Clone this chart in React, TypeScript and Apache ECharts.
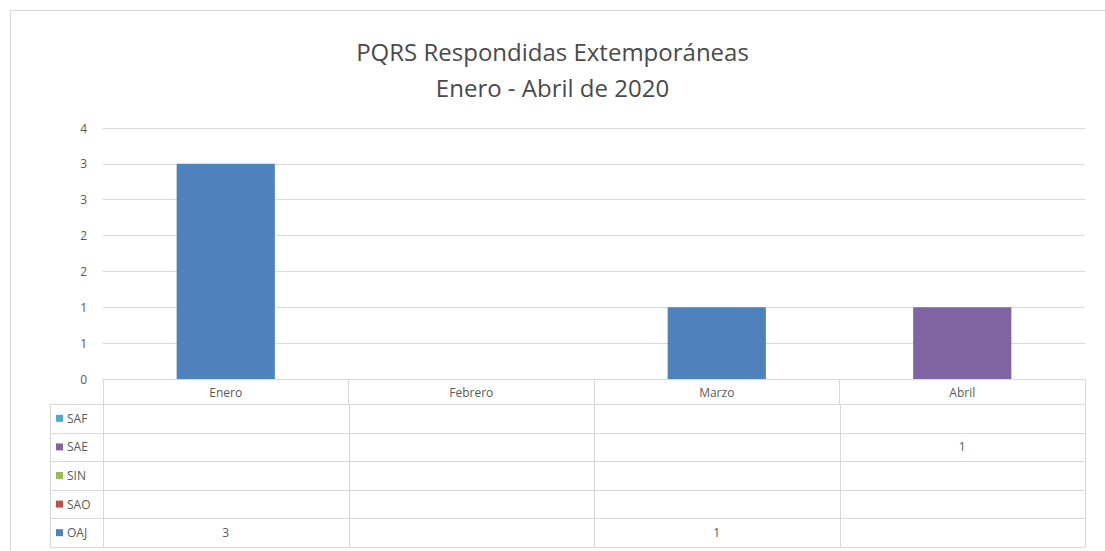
import { useEffect, useRef } from "react";
import * as echarts from "echarts";

const categories = ["Enero", "Febrero", "Marzo", "Abril"];
const seriesNames = ["OAJ", "SAO", "SIN", "SAE", "SAF"];
const seriesColors = ["#4F81BD", "#C0504D", "#9BBB59", "#8064A2", "#4BACC6"];
const oajValues: (number | null)[] = [3, null, 1, null];
const saoValues: (number | null)[] = [null, null, null, null];
const sinValues: (number | null)[] = [null, null, null, null];
const saeValues: (number | null)[] = [null, null, null, 1];
const safValues: (number | null)[] = [null, null, null, null];
const seriesValues = [oajValues, saoValues, sinValues, saeValues, safValues];
const titleLines = ["PQRS Respondidas Extemporáneas", "Enero - Abril de 2020"];

const W = 1105;
const H = 551;
const gridLeft = 103;
const gridRight = 1085;
const gridTop = 128;
const axisY = 379;
const headerH = 25;
const rowH = 28.6;
const tableLeft = 50;
const lineColor = "#d9d9d9";
const textColor = "#595959";
const font = "'Open Sans', sans-serif";

export default function App() {
  const ref = useRef<HTMLDivElement>(null);
  useEffect(() => {
    document.body.style.margin = "0";
    const chart = echarts.init(ref.current!, null, { renderer: "svg" });
    const colW = (gridRight - gridLeft) / categories.length;
    const tableTop = axisY + headerH;
    const nRows = seriesNames.length;
    const graphics: any[] = [];
    // outer frame
    graphics.push({
      type: "rect",
      shape: { x: 10.5, y: 10.5, width: W + 20, height: H + 20 },
      style: { fill: "none", stroke: lineColor, lineWidth: 1 },
      silent: true,
    });
    // horizontal lines of table
    for (let r = 0; r <= nRows; r++) {
      const y = Math.round(tableTop + r * rowH) + 0.5;
      graphics.push({
        type: "line",
        shape: { x1: tableLeft, y1: y, x2: gridRight, y2: y },
        style: { stroke: lineColor, lineWidth: 1 },
        silent: true,
      });
    }
    // vertical lines
    const bottom = Math.round(tableTop + nRows * rowH) + 0.5;
    graphics.push({
      type: "line",
      shape: { x1: tableLeft + 0.5, y1: tableTop, x2: tableLeft + 0.5, y2: bottom },
      style: { stroke: lineColor, lineWidth: 1 },
      silent: true,
    });
    for (let c = 0; c <= categories.length; c++) {
      const x = Math.round(gridLeft + c * colW) + 0.5;
      graphics.push({
        type: "line",
        shape: { x1: x, y1: tableTop, x2: x, y2: bottom },
        style: { stroke: lineColor, lineWidth: 1 },
        silent: true,
      });
    }
    // rows: reverse order of series (top: last series)
    for (let r = 0; r < nRows; r++) {
      const si = nRows - 1 - r;
      const cy = tableTop + r * rowH + rowH / 2;
      graphics.push({
        type: "rect",
        shape: { x: tableLeft + 6, y: cy - 3.5, width: 7, height: 7 },
        style: { fill: seriesColors[si] },
        silent: true,
      });
      graphics.push({
        type: "text",
        x: tableLeft + 17,
        y: cy,
        style: {
          text: seriesNames[si],
          fill: textColor,
          font: `12px ${font}`,
          verticalAlign: "middle",
          align: "left",
        },
        silent: true,
      });
      seriesValues[si].forEach((v, ci) => {
        if (v === null || v === undefined) return;
        graphics.push({
          type: "text",
          x: gridLeft + ci * colW + colW / 2,
          y: cy,
          style: {
            text: String(v),
            fill: textColor,
            font: `12px ${font}`,
            verticalAlign: "middle",
            align: "center",
          },
          silent: true,
        });
      });
    }

    chart.setOption({
      animation: false,
      backgroundColor: "#ffffff",
      title: {
        text: titleLines.join("\n"),
        left: "center",
        top: 28,
        textStyle: {
          color: "#4a4a4a",
          fontSize: 24,
          fontWeight: "normal",
          fontFamily: font,
          lineHeight: 36,
        },
      },
      grid: {
        left: gridLeft,
        right: W - gridRight,
        top: gridTop,
        bottom: H - axisY,
        containLabel: false,
      },
      xAxis: {
        type: "category",
        data: categories,
        axisLine: { show: true, lineStyle: { color: lineColor } },
        axisTick: { show: true, length: headerH, lineStyle: { color: lineColor } },
        axisLabel: { color: textColor, fontSize: 12, fontFamily: font, margin: 7 },
      },
      yAxis: {
        type: "value",
        min: 0,
        max: 3.5,
        interval: 0.5,
        axisLine: { show: false },
        axisTick: { show: false },
        axisLabel: {
          color: textColor,
          fontSize: 12,
          fontFamily: font,
          margin: 16,
          formatter: (v: number) => String(Math.round(v)),
        },
        splitLine: { lineStyle: { color: lineColor } },
      },
      series: seriesNames.map((name, i) => ({
        name,
        type: "bar",
        stack: "total",
        barWidth: "40%",
        data: seriesValues[i],
        itemStyle: { color: seriesColors[i] },
      })),
      graphic: graphics,
    });
    return () => chart.dispose();
  }, []);
  return <div ref={ref} style={{ width: W, height: H }} />;
}
